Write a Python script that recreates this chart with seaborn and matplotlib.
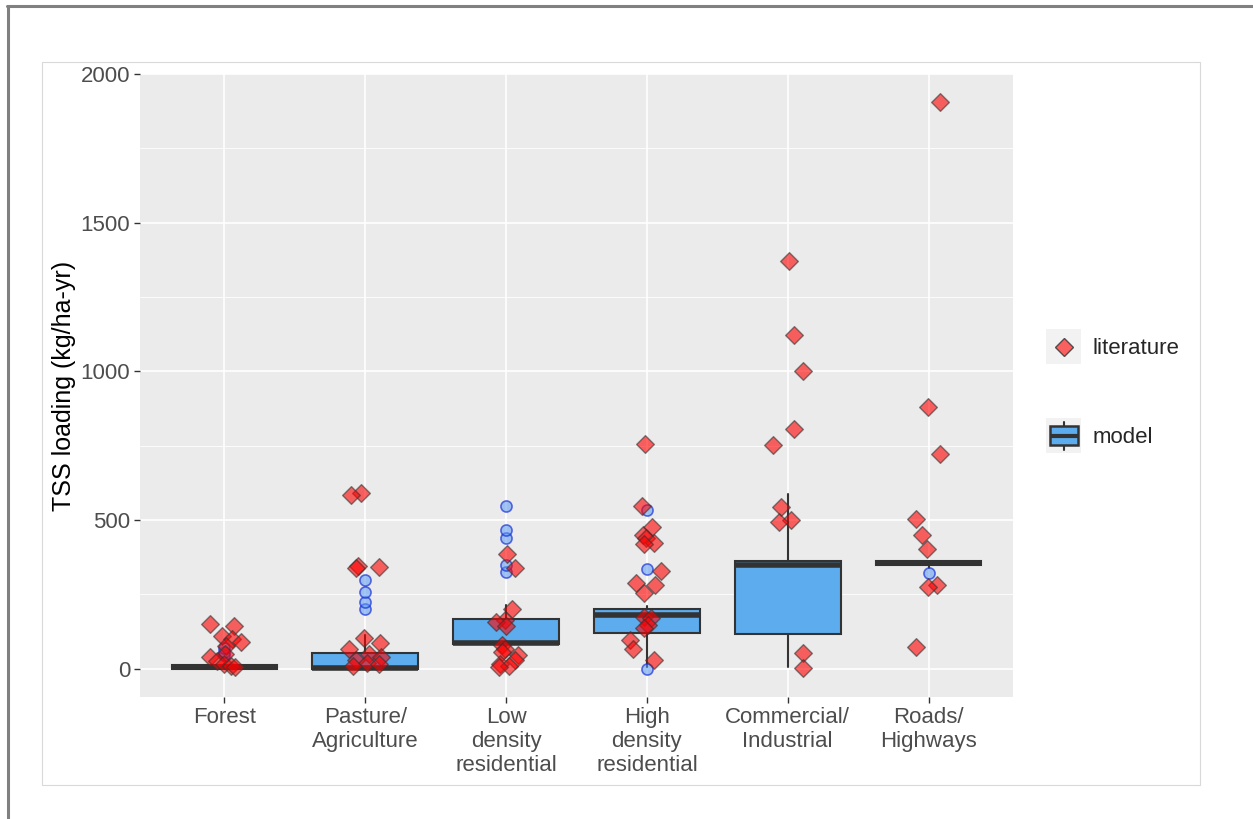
import numpy as np
import pandas as pd
import matplotlib
matplotlib.use('Agg')
import matplotlib.pyplot as plt
import seaborn as sns
from matplotlib.lines import Line2D
from matplotlib.patches import Rectangle
from matplotlib.legend_handler import HandlerBase
from matplotlib.ticker import MultipleLocator

# land use categories (x axis)
categories = ['Forest', 'Pasture/\nAgriculture', 'Low\ndensity\nresidential',
              'High\ndensity\nresidential', 'Commercial/\nIndustrial', 'Roads/\nHighways']

# model results, box summaries (kg/ha-yr)
model_q1 = [0, 0, 82, 120, 118, 350]
model_med = [5, 3, 88, 182, 350, 357]
model_q3 = [12, 54, 168, 200, 363, 364]
model_lo = [0, 0, 75, 5, 5, 340]
model_hi = [15, 114, 215, 210, 588, 364]
model_out = [[45, 57, 70], [200, 225, 259, 297], [326, 348, 440, 468, 548],
             [0, 337, 535], [], [323]]

# literature values per category
lit_forest = [150, 145, 110, 100, 90, 75, 50, 40, 25, 15, 10, 5]
lit_pasture = [590, 585, 345, 343, 340, 105, 85, 65, 50, 40, 30, 20, 15, 10]
lit_lowres = [385, 340, 200, 165, 158, 145, 80, 65, 55, 45, 30, 15, 10, 5]
lit_highres = [757, 548, 475, 450, 440, 423, 420, 330, 288, 280, 255, 175, 170,
               148, 138, 97, 65, 30]
lit_commercial = [1371, 1123, 1002, 807, 753, 545, 501, 494, 54, 2]
lit_roads = [1905, 881, 723, 504, 451, 403, 283, 275, 74]

BOX_FILL = '#5CACEE'
DARK = '#333333'
LIT_FACE = (1.0, 0.0, 0.0, 0.6)
LIT_EDGE = (0.2, 0.2, 0.2, 0.8)


class LitKey(HandlerBase):
    def create_artists(self, legend, orig_handle, xd, yd, w, h, fontsize, trans):
        bg = Rectangle((-xd, -yd), w, h, facecolor='#F2F2F2', edgecolor='none',
                       transform=trans)
        m = Line2D([-xd + w / 2], [-yd + h / 2], marker='D', markersize=9,
                   markerfacecolor=LIT_FACE, markeredgecolor=LIT_EDGE,
                   markeredgewidth=1, linestyle='none', transform=trans)
        return [bg, m]


class BoxKey(HandlerBase):
    def create_artists(self, legend, orig_handle, xd, yd, w, h, fontsize, trans):
        x0, y0 = -xd, -yd
        cx, cy = x0 + w / 2, y0 + h / 2
        bg = Rectangle((x0, y0), w, h, facecolor='#F2F2F2', edgecolor='none',
                       transform=trans)
        wh = Line2D([cx, cx], [y0 + 0.1 * h, y0 + 0.88 * h], color=DARK, lw=1.5,
                    transform=trans)
        box = Rectangle((x0 + 0.1 * w, y0 + 0.22 * h), 0.8 * w, 0.54 * h,
                        facecolor=BOX_FILL, edgecolor=DARK, lw=1.8, transform=trans)
        med = Line2D([x0 + 0.1 * w, x0 + 0.9 * w], [cy, cy], color=DARK, lw=3,
                     solid_capstyle='butt', transform=trans)
        return [bg, wh, box, med]


def main():
    sns.set_theme(style='darkgrid')
    plt.rcParams['font.family'] = ['Liberation Sans', 'DejaVu Sans']

    lit = pd.DataFrame({
        'landuse': ([categories[0]] * len(lit_forest) + [categories[1]] * len(lit_pasture)
                    + [categories[2]] * len(lit_lowres) + [categories[3]] * len(lit_highres)
                    + [categories[4]] * len(lit_commercial) + [categories[5]] * len(lit_roads)),
        'tss': lit_forest + lit_pasture + lit_lowres + lit_highres + lit_commercial + lit_roads,
    })

    fig = plt.figure(figsize=(12.53, 8.19), dpi=100)
    fig.patch.set_facecolor('white')
    ax = fig.add_axes([140 / 1253, 1 - 697 / 819, 873 / 1253, 623 / 819])
    ax.set_facecolor('#EBEBEB')

    # model boxes
    stats = []
    for i in range(len(categories)):
        stats.append(dict(q1=model_q1[i], med=model_med[i], q3=model_q3[i],
                          whislo=model_lo[i], whishi=model_hi[i],
                          fliers=model_out[i], label=categories[i]))
    ax.bxp(stats, positions=range(len(categories)), widths=0.75, patch_artist=True,
           showcaps=False, manage_ticks=False,
           boxprops=dict(facecolor=BOX_FILL, edgecolor=DARK, linewidth=1.5),
           medianprops=dict(color=DARK, linewidth=4, solid_capstyle='butt'),
           whiskerprops=dict(color=DARK, linewidth=1.5),
           flierprops=dict(marker='o', markersize=8,
                           markerfacecolor=(0.36, 0.6, 0.95, 0.55),
                           markeredgecolor=(0.1, 0.2, 0.85, 0.7),
                           markeredgewidth=1.2))

    # literature values
    np.random.seed(7)
    sns.stripplot(data=lit, x='landuse', y='tss', order=categories, jitter=0.12,
                  marker='D', size=9, color='red', alpha=0.6, edgecolor=DARK,
                  linewidth=1, zorder=3, ax=ax)

    ax.set_xlim(-0.6, len(categories) - 0.4)
    ax.set_ylim(-95, 2000)
    ax.yaxis.set_major_locator(MultipleLocator(500))
    ax.yaxis.set_minor_locator(MultipleLocator(250))
    ax.set_xticks(range(len(categories)))
    ax.set_xticklabels(categories, linespacing=1.2)
    ax.grid(True, which='major', color='white', linewidth=1.2)
    ax.grid(True, which='minor', axis='y', color='white', linewidth=0.6)
    ax.set_axisbelow(True)
    for s in ax.spines.values():
        s.set_visible(False)

    ax.tick_params(axis='both', which='major', length=4, width=1, color=DARK,
                   labelsize=16, labelcolor='#4D4D4D', pad=3, bottom=True, left=True)
    ax.tick_params(axis='y', which='minor', length=0)
    ax.set_xlabel('')
    ax.set_ylabel('TSS loading (kg/ha-yr)', fontsize=18, color='black', labelpad=3.5)

    # legend
    h_lit = Line2D([], [])
    h_mod = Rectangle((0, 0), 1, 1)
    fig.legend([h_lit, h_mod], ['literature', 'model'],
               handler_map={h_lit: LitKey(), h_mod: BoxKey()},
               loc='upper left', bbox_to_anchor=(1046 / 1253, 1 - 329 / 819),
               frameon=False, borderpad=0, borderaxespad=0, fontsize=16,
               handlelength=1.58, handleheight=2.05, handletextpad=0.5,
               labelspacing=2.43)

    # plot border and outer window frame
    fig.add_artist(Rectangle((42 / 1253, 1 - 785 / 819), 1158 / 1253, 723 / 819,
                             transform=fig.transFigure, facecolor='none',
                             edgecolor='#D9D9D9', linewidth=0.8))
    fig.add_artist(Line2D([7.5 / 1253, 7.5 / 1253], [0, 1 - 6 / 819],
                          transform=fig.transFigure, color='#808080', linewidth=2.2))
    fig.add_artist(Line2D([6.5 / 1253, 1], [1 - 6 / 819, 1 - 6 / 819],
                          transform=fig.transFigure, color='#808080', linewidth=2.2))

    fig.savefig('out.png', dpi=100)
    plt.close(fig)


if __name__ == "__main__":
    main()
